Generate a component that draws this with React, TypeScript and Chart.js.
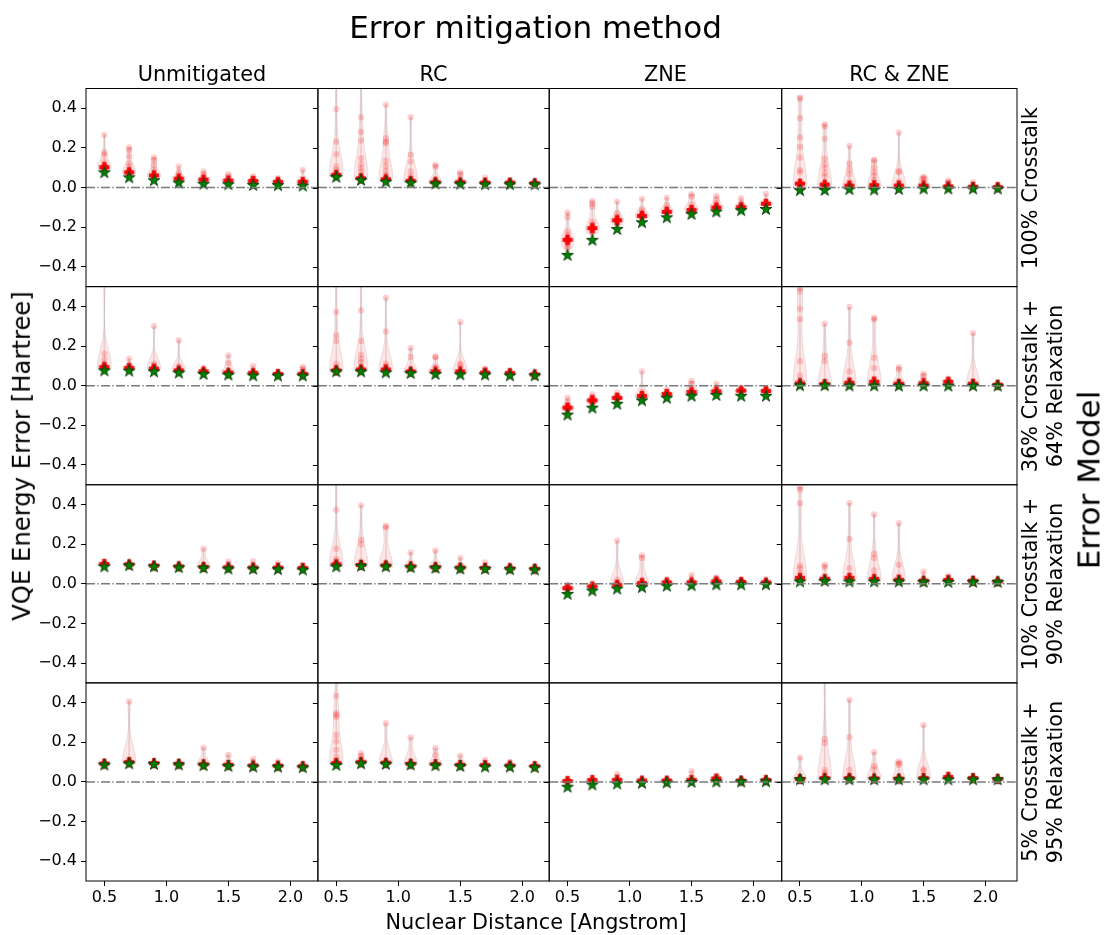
import React, { useEffect, useRef } from "react";
import { Chart, registerables } from "chart.js";

Chart.register(...registerables);

// ---------------- data ----------------
const distances = [0.5, 0.7, 0.9, 1.1, 1.3, 1.5, 1.7, 1.9, 2.1];
const methods = ["Unmitigated", "RC", "ZNE", "RC & ZNE"];
const errorModels = [
  "100% Crosstalk",
  "36% Crosstalk +\n64% Relaxation",
  "10% Crosstalk +\n90% Relaxation",
  "5% Crosstalk +\n95% Relaxation",
];
const yTicks = [-0.4, -0.2, 0, 0.2, 0.4];
const xTicks = [0.5, 1.0, 1.5, 2.0];

// Row 1: 100% crosstalk
const ref_xt100_unmit = [0.077, 0.052, 0.037, 0.025, 0.019, 0.017, 0.013, 0.012, 0.010];
const mean_xt100_unmit = [0.103, 0.077, 0.061, 0.045, 0.040, 0.035, 0.033, 0.029, 0.029];
const runs_xt100_unmit = [
  [0.266, 0.177, 0.165, 0.131, 0.114, 0.108, 0.104, 0.101, 0.099, 0.097, 0.095, 0.093, 0.090],
  [0.202, 0.190, 0.157, 0.123, 0.106, 0.089, 0.082, 0.078, 0.075, 0.073, 0.071, 0.069, 0.066],
  [0.152, 0.140, 0.114, 0.089, 0.072, 0.064, 0.061, 0.059, 0.057, 0.055, 0.053],
  [0.106, 0.077, 0.064, 0.050, 0.047, 0.045, 0.043, 0.041, 0.039],
  [0.081, 0.067, 0.050, 0.043, 0.041, 0.039, 0.037, 0.035],
  [0.067, 0.056, 0.040, 0.037, 0.035, 0.033, 0.031],
  [0.056, 0.047, 0.036, 0.034, 0.032, 0.030, 0.028],
  [0.047, 0.033, 0.031, 0.029, 0.027, 0.025],
  [0.089, 0.036, 0.032, 0.030, 0.028, 0.026],
];
const ref_xt100_rc = [0.054, 0.039, 0.030, 0.025, 0.020, 0.019, 0.017, 0.017, 0.017];
const mean_xt100_rc = [0.064, 0.047, 0.042, 0.034, 0.027, 0.027, 0.025, 0.025, 0.022];
const runs_xt100_rc = [
  [0.56, 0.396, 0.232, 0.168, 0.106, 0.089, 0.075, 0.070, 0.067, 0.064, 0.062, 0.060, 0.058, 0.056, 0.054],
  [0.54, 0.355, 0.281, 0.237, 0.148, 0.118, 0.098, 0.081, 0.060, 0.055, 0.051, 0.048, 0.046, 0.044, 0.042, 0.040],
  [0.418, 0.249, 0.232, 0.224, 0.135, 0.109, 0.084, 0.064, 0.050, 0.046, 0.043, 0.041, 0.039, 0.037, 0.035],
  [0.355, 0.165, 0.131, 0.081, 0.056, 0.040, 0.037, 0.035, 0.033, 0.031, 0.029, 0.028],
  [0.114, 0.106, 0.044, 0.032, 0.029, 0.027, 0.025, 0.023, 0.022],
  [0.076, 0.067, 0.032, 0.029, 0.027, 0.025, 0.023, 0.022],
  [0.050, 0.030, 0.027, 0.025, 0.023, 0.021],
  [0.037, 0.028, 0.026, 0.024, 0.022, 0.021],
  [0.027, 0.024, 0.022, 0.021, 0.020, 0.019],
];
const ref_xt100_zne = [-0.340, -0.264, -0.209, -0.175, -0.150, -0.133, -0.121, -0.114, -0.108];
const mean_xt100_zne = [-0.264, -0.205, -0.165, -0.143, -0.123, -0.113, -0.101, -0.099, -0.082];
const runs_xt100_zne = [
  [-0.126, -0.150, -0.222, -0.239, -0.250, -0.258, -0.262, -0.266, -0.270, -0.276, -0.285, -0.295, -0.310],
  [-0.067, -0.081, -0.096, -0.172, -0.185, -0.195, -0.200, -0.205, -0.210, -0.215, -0.222, -0.231],
  [-0.071, -0.130, -0.146, -0.155, -0.160, -0.164, -0.168, -0.172, -0.178, -0.189],
  [-0.057, -0.109, -0.121, -0.132, -0.138, -0.142, -0.146, -0.150, -0.155],
  [-0.051, -0.088, -0.104, -0.113, -0.118, -0.122, -0.126, -0.130],
  [-0.034, -0.045, -0.084, -0.100, -0.106, -0.110, -0.114, -0.118],
  [-0.042, -0.062, -0.079, -0.090, -0.096, -0.100, -0.104, -0.108],
  [-0.054, -0.079, -0.090, -0.095, -0.099, -0.102, -0.106],
  [-0.032, -0.071, -0.076, -0.080, -0.083, -0.086, -0.090],
];
const ref_xt100_rczne = [-0.013, -0.012, -0.008, -0.010, -0.007, -0.005, -0.005, -0.005, -0.005];
const mean_xt100_rczne = [0.020, 0.015, 0.010, 0.012, 0.010, 0.010, 0.006, 0.004, 0.002];
const runs_xt100_rczne = [
  [0.455, 0.448, 0.350, 0.253, 0.205, 0.152, 0.089, 0.077, 0.030, 0.018, 0.012, 0.008, 0.005, 0.003, 0.001, 0.000, -0.002, -0.004],
  [0.320, 0.308, 0.246, 0.145, 0.118, 0.098, 0.072, 0.056, 0.020, 0.012, 0.008, 0.005, 0.003, 0.001, -0.001, -0.003],
  [0.210, 0.121, 0.093, 0.067, 0.030, 0.012, 0.008, 0.005, 0.003, 0.001, -0.001, -0.003],
  [0.140, 0.135, 0.101, 0.077, 0.061, 0.039, 0.015, 0.010, 0.006, 0.003, 0.001, -0.001, -0.003],
  [0.278, 0.084, 0.077, 0.030, 0.012, 0.008, 0.005, 0.003, 0.001, -0.001, -0.003],
  [0.054, 0.050, 0.044, 0.030, 0.008, 0.005, 0.003, 0.001, -0.001],
  [0.035, 0.027, 0.006, 0.004, 0.002, 0.000, -0.002],
  [0.027, 0.005, 0.003, 0.001, 0.000, -0.002],
  [0.013, 0.004, 0.002, 0.001, 0.000, -0.002],
];

// Row 2: 36% crosstalk + 64% relaxation
const ref_xt36_unmit = [0.077, 0.076, 0.072, 0.066, 0.059, 0.056, 0.052, 0.051, 0.051];
const mean_xt36_unmit = [0.094, 0.089, 0.086, 0.077, 0.072, 0.066, 0.064, 0.059, 0.059];
const runs_xt36_unmit = [
  [0.53, 0.162, 0.133, 0.111, 0.102, 0.099, 0.096, 0.094, 0.092, 0.090, 0.088, 0.086],
  [0.136, 0.106, 0.095, 0.092, 0.090, 0.088, 0.086, 0.084],
  [0.301, 0.111, 0.103, 0.092, 0.089, 0.087, 0.085, 0.083, 0.081],
  [0.229, 0.098, 0.082, 0.079, 0.077, 0.075, 0.073, 0.071],
  [0.086, 0.076, 0.074, 0.072, 0.070, 0.068],
  [0.153, 0.114, 0.070, 0.067, 0.065, 0.063, 0.061],
  [0.099, 0.068, 0.065, 0.063, 0.061, 0.059],
  [0.069, 0.062, 0.060, 0.058, 0.056],
  [0.094, 0.086, 0.062, 0.060, 0.058, 0.056, 0.054],
];
const ref_xt36_rc = [0.072, 0.072, 0.067, 0.064, 0.059, 0.057, 0.056, 0.052, 0.052];
const mean_xt36_rc = [0.077, 0.082, 0.082, 0.072, 0.072, 0.072, 0.066, 0.064, 0.057];
const runs_xt36_rc = [
  [0.55, 0.372, 0.254, 0.226, 0.111, 0.094, 0.085, 0.082, 0.080, 0.078, 0.076, 0.075, 0.074, 0.073, 0.072],
  [0.54, 0.380, 0.226, 0.157, 0.136, 0.120, 0.095, 0.088, 0.085, 0.082, 0.080, 0.078, 0.076, 0.074, 0.073],
  [0.444, 0.274, 0.111, 0.094, 0.088, 0.085, 0.082, 0.080, 0.078, 0.076, 0.074, 0.072],
  [0.190, 0.145, 0.076, 0.074, 0.072, 0.070, 0.068, 0.066],
  [0.146, 0.145, 0.094, 0.074, 0.072, 0.070, 0.068, 0.066, 0.064],
  [0.322, 0.111, 0.103, 0.074, 0.072, 0.070, 0.068, 0.066, 0.064, 0.062],
  [0.086, 0.082, 0.068, 0.066, 0.064, 0.062, 0.060],
  [0.072, 0.066, 0.064, 0.062, 0.060, 0.058],
  [0.061, 0.059, 0.057, 0.055, 0.054],
];
const ref_xt36_zne = [-0.146, -0.111, -0.091, -0.074, -0.061, -0.051, -0.047, -0.051, -0.051];
const mean_xt36_zne = [-0.111, -0.074, -0.062, -0.052, -0.042, -0.032, -0.029, -0.025, -0.027];
const runs_xt36_zne = [
  [-0.061, -0.082, -0.100, -0.106, -0.110, -0.113, -0.116, -0.120, -0.125],
  [-0.044, -0.057, -0.066, -0.070, -0.074, -0.077, -0.080, -0.085, -0.091],
  [-0.035, -0.049, -0.056, -0.060, -0.063, -0.066, -0.070],
  [0.072, -0.032, -0.045, -0.049, -0.052, -0.055, -0.058, -0.061],
  [-0.019, -0.032, -0.038, -0.041, -0.044, -0.047, -0.050],
  [0.024, 0.010, -0.015, -0.026, -0.030, -0.033, -0.036, -0.040],
  [0.010, -0.015, -0.024, -0.028, -0.031, -0.034, -0.037],
  [-0.010, -0.018, -0.022, -0.025, -0.028, -0.031],
  [-0.012, -0.020, -0.024, -0.027, -0.030, -0.033],
];
const ref_xt36_rczne = [0.002, 0.002, 0.001, 0.001, 0.000, 0.000, 0.000, 0.000, 0.000];
const mean_xt36_rczne = [0.012, 0.008, 0.015, 0.020, 0.010, 0.012, 0.020, 0.010, 0.005];
const runs_xt36_rczne = [
  [0.493, 0.476, 0.389, 0.335, 0.123, 0.052, 0.027, 0.015, 0.010, 0.006, 0.004, 0.002, 0.000, -0.002],
  [0.313, 0.150, 0.123, 0.019, 0.010, 0.006, 0.004, 0.002, 0.000, -0.002],
  [0.397, 0.217, 0.072, 0.032, 0.012, 0.008, 0.005, 0.002, 0.000, -0.002],
  [0.342, 0.335, 0.141, 0.089, 0.035, 0.015, 0.010, 0.006, 0.003, 0.001, -0.001],
  [0.093, 0.082, 0.019, 0.008, 0.005, 0.003, 0.001, -0.001],
  [0.061, 0.049, 0.027, 0.008, 0.005, 0.003, 0.001, -0.001],
  [0.035, 0.027, 0.008, 0.005, 0.003, 0.001, -0.001],
  [0.266, 0.022, 0.006, 0.004, 0.002, 0.001, -0.001],
  [0.013, 0.004, 0.002, 0.001, 0.000, -0.001],
];

// Row 3: 10% crosstalk + 90% relaxation
const ref_xt10_unmit = [0.088, 0.094, 0.088, 0.084, 0.081, 0.077, 0.076, 0.074, 0.072];
const mean_xt10_unmit = [0.100, 0.098, 0.092, 0.088, 0.085, 0.083, 0.082, 0.082, 0.080];
const runs_xt10_unmit = [
  [0.113, 0.104, 0.100, 0.098, 0.096, 0.094],
  [0.104, 0.100, 0.099, 0.097, 0.096],
  [0.098, 0.094, 0.093, 0.091, 0.090],
  [0.092, 0.090, 0.088, 0.087, 0.086],
  [0.177, 0.088, 0.086, 0.084, 0.082],
  [0.113, 0.085, 0.083, 0.080, 0.078],
  [0.114, 0.083, 0.081, 0.079, 0.077],
  [0.104, 0.081, 0.079, 0.077, 0.075],
  [0.096, 0.079, 0.077, 0.075, 0.073],
];
const ref_xt10_rc = [0.088, 0.091, 0.088, 0.084, 0.081, 0.077, 0.076, 0.074, 0.072];
const mean_xt10_rc = [0.098, 0.095, 0.093, 0.088, 0.084, 0.082, 0.080, 0.078, 0.076];
const runs_xt10_rc = [
  [0.54, 0.374, 0.177, 0.126, 0.113, 0.104, 0.101, 0.099, 0.097, 0.095, 0.093, 0.091, 0.089],
  [0.396, 0.222, 0.200, 0.113, 0.100, 0.097, 0.095, 0.093, 0.091, 0.089],
  [0.293, 0.285, 0.104, 0.097, 0.094, 0.092, 0.090, 0.088],
  [0.158, 0.092, 0.090, 0.088, 0.086, 0.084],
  [0.168, 0.088, 0.086, 0.084, 0.082, 0.080],
  [0.131, 0.086, 0.083, 0.081, 0.079, 0.077],
  [0.108, 0.083, 0.081, 0.079, 0.077, 0.075],
  [0.093, 0.080, 0.078, 0.076, 0.074],
  [0.084, 0.078, 0.076, 0.074, 0.072],
];
const ref_xt10_zne = [-0.051, -0.034, -0.024, -0.017, -0.010, -0.007, -0.003, -0.003, -0.003];
const mean_xt10_zne = [-0.022, -0.013, -0.005, 0.003, 0.007, 0.007, 0.012, 0.010, 0.007];
const runs_xt10_zne = [
  [-0.005, -0.015, -0.019, -0.022, -0.025, -0.030],
  [-0.005, -0.010, -0.013, -0.015, -0.020],
  [0.217, 0.020, 0.002, -0.002, -0.005, -0.008, -0.011],
  [0.143, 0.130, 0.020, 0.006, 0.003, 0.000, -0.003, -0.006],
  [0.020, 0.010, 0.008, 0.006, 0.003, 0.000],
  [0.045, 0.012, 0.009, 0.006, 0.003, 0.000],
  [0.032, 0.024, 0.014, 0.012, 0.010, 0.005, 0.002],
  [0.020, 0.012, 0.010, 0.008, 0.005, 0.002],
  [0.015, 0.010, 0.008, 0.006, 0.004, 0.002],
];
const ref_xt10_rczne = [0.012, 0.015, 0.012, 0.012, 0.012, 0.010, 0.010, 0.010, 0.010];
const mean_xt10_rczne = [0.030, 0.025, 0.030, 0.025, 0.020, 0.016, 0.020, 0.016, 0.012];
const runs_xt10_rczne = [
  [0.488, 0.475, 0.407, 0.091, 0.079, 0.054, 0.030, 0.022, 0.018, 0.015, 0.013, 0.011, 0.010, 0.009],
  [0.096, 0.084, 0.024, 0.016, 0.014, 0.012, 0.011, 0.010],
  [0.407, 0.226, 0.079, 0.045, 0.022, 0.017, 0.014, 0.012, 0.011, 0.010],
  [0.350, 0.152, 0.130, 0.067, 0.037, 0.018, 0.015, 0.013, 0.012, 0.011, 0.010],
  [0.306, 0.096, 0.037, 0.016, 0.014, 0.012, 0.011, 0.010],
  [0.061, 0.015, 0.013, 0.012, 0.011, 0.010],
  [0.040, 0.014, 0.012, 0.011, 0.010],
  [0.025, 0.013, 0.012, 0.011, 0.010],
  [0.015, 0.013, 0.012, 0.011, 0.010],
];

// Row 4: 5% crosstalk + 95% relaxation
const ref_xt5_unmit = [0.088, 0.094, 0.091, 0.088, 0.084, 0.081, 0.077, 0.077, 0.074];
const mean_xt5_unmit = [0.093, 0.100, 0.095, 0.092, 0.089, 0.086, 0.083, 0.082, 0.079];
const runs_xt5_unmit = [
  [0.095, 0.093, 0.092, 0.091, 0.090],
  [0.406, 0.111, 0.102, 0.100, 0.098, 0.096, 0.094],
  [0.096, 0.094, 0.093, 0.092, 0.091],
  [0.092, 0.091, 0.090, 0.089, 0.088],
  [0.173, 0.090, 0.088, 0.086, 0.084],
  [0.136, 0.087, 0.085, 0.083, 0.081],
  [0.116, 0.084, 0.082, 0.080, 0.078],
  [0.103, 0.083, 0.081, 0.079, 0.077],
  [0.091, 0.080, 0.078, 0.076, 0.074],
];
const ref_xt5_rc = [0.086, 0.094, 0.091, 0.088, 0.084, 0.081, 0.077, 0.077, 0.074];
const mean_xt5_rc = [0.095, 0.100, 0.097, 0.092, 0.090, 0.086, 0.085, 0.083, 0.080];
const runs_xt5_rc = [
  [0.53, 0.434, 0.347, 0.338, 0.327, 0.237, 0.204, 0.162, 0.128, 0.110, 0.104, 0.100, 0.097, 0.095, 0.093, 0.091, 0.090, 0.088],
  [0.145, 0.131, 0.114, 0.102, 0.100, 0.098, 0.096, 0.094],
  [0.296, 0.100, 0.098, 0.096, 0.094, 0.092],
  [0.224, 0.094, 0.092, 0.090, 0.088],
  [0.170, 0.136, 0.092, 0.090, 0.088, 0.086, 0.084],
  [0.133, 0.088, 0.086, 0.084, 0.082],
  [0.111, 0.086, 0.084, 0.082, 0.080],
  [0.098, 0.084, 0.082, 0.080, 0.078],
  [0.086, 0.081, 0.079, 0.077, 0.075],
];
const ref_xt5_zne = [-0.024, -0.013, -0.008, -0.005, -0.003, 0.000, 0.002, 0.002, 0.003];
const mean_xt5_zne = [0.005, 0.010, 0.010, 0.007, 0.007, 0.010, 0.017, 0.007, 0.010];
const runs_xt5_zne = [
  [0.010, 0.006, 0.004, 0.000, -0.005],
  [0.012, 0.009, 0.008, 0.004, 0.000],
  [0.040, 0.012, 0.010, 0.006, 0.002],
  [0.012, 0.009, 0.007, 0.004],
  [0.012, 0.009, 0.007, 0.004],
  [0.054, 0.012, 0.010, 0.006, 0.003],
  [0.030, 0.022, 0.014, 0.012, 0.006],
  [0.012, 0.009, 0.007, 0.004],
  [0.014, 0.012, 0.010, 0.006],
];
const ref_xt5_rczne = [0.013, 0.013, 0.013, 0.013, 0.013, 0.013, 0.013, 0.013, 0.013];
const mean_xt5_rczne = [0.015, 0.020, 0.020, 0.018, 0.017, 0.020, 0.025, 0.020, 0.015];
const runs_xt5_rczne = [
  [0.123, 0.020, 0.017, 0.015, 0.013, 0.012],
  [0.54, 0.217, 0.195, 0.061, 0.044, 0.028, 0.022, 0.018, 0.015, 0.013, 0.012, 0.011],
  [0.414, 0.226, 0.061, 0.030, 0.020, 0.017, 0.015, 0.013, 0.012, 0.011],
  [0.150, 0.081, 0.064, 0.020, 0.017, 0.015, 0.013, 0.012],
  [0.103, 0.094, 0.086, 0.020, 0.017, 0.015, 0.013, 0.012],
  [0.288, 0.064, 0.057, 0.025, 0.018, 0.015, 0.013, 0.012],
  [0.040, 0.020, 0.017, 0.015, 0.013],
  [0.027, 0.017, 0.015, 0.013, 0.012],
  [0.014, 0.013, 0.012, 0.011],
];

const panels = [
  [
    { ref: ref_xt100_unmit, mean: mean_xt100_unmit, runs: runs_xt100_unmit },
    { ref: ref_xt100_rc, mean: mean_xt100_rc, runs: runs_xt100_rc },
    { ref: ref_xt100_zne, mean: mean_xt100_zne, runs: runs_xt100_zne },
    { ref: ref_xt100_rczne, mean: mean_xt100_rczne, runs: runs_xt100_rczne },
  ],
  [
    { ref: ref_xt36_unmit, mean: mean_xt36_unmit, runs: runs_xt36_unmit },
    { ref: ref_xt36_rc, mean: mean_xt36_rc, runs: runs_xt36_rc },
    { ref: ref_xt36_zne, mean: mean_xt36_zne, runs: runs_xt36_zne },
    { ref: ref_xt36_rczne, mean: mean_xt36_rczne, runs: runs_xt36_rczne },
  ],
  [
    { ref: ref_xt10_unmit, mean: mean_xt10_unmit, runs: runs_xt10_unmit },
    { ref: ref_xt10_rc, mean: mean_xt10_rc, runs: runs_xt10_rc },
    { ref: ref_xt10_zne, mean: mean_xt10_zne, runs: runs_xt10_zne },
    { ref: ref_xt10_rczne, mean: mean_xt10_rczne, runs: runs_xt10_rczne },
  ],
  [
    { ref: ref_xt5_unmit, mean: mean_xt5_unmit, runs: runs_xt5_unmit },
    { ref: ref_xt5_rc, mean: mean_xt5_rc, runs: runs_xt5_rc },
    { ref: ref_xt5_zne, mean: mean_xt5_zne, runs: runs_xt5_zne },
    { ref: ref_xt5_rczne, mean: mean_xt5_rczne, runs: runs_xt5_rczne },
  ],
];

// ---------------- layout / style ----------------
const W = 1105;
const H = 935;
const AREA = { left: 86, top: 88.5, right: 1017, bottom: 881 };
const COL_WEIGHTS = [231.9, 231.3, 232.5, 235.3];
const X_MIN = 0.352;
const X_MAX = [2.222, 2.217, 2.227, 2.256];
const Y_MIN = -0.5;
const Y_MAX = 0.5;
const VIOLIN_WIDTH = 0.11;
const FONT = "'DejaVu Sans', sans-serif";
const LABEL_FS = 20.8;
const YLABEL_FS = 24.3;
const TITLE_FS = 31;
const TICK_FS = 16;

function colBounds() {
  const tot = COL_WEIGHTS.reduce((a, b) => a + b, 0);
  const w = AREA.right - AREA.left;
  const out: number[] = [AREA.left];
  let acc = AREA.left;
  for (const cw of COL_WEIGHTS) {
    acc += (w * cw) / tot;
    out.push(acc);
  }
  return out;
}
const COLS = colBounds();
const ROW_H = (AREA.bottom - AREA.top) / 4;

function fmtTick(v: number) {
  const s = Math.abs(v).toFixed(1);
  return v < -1e-9 ? "\u2212" + s : s;
}

function kde(samples: number[], n = 100) {
  const N = samples.length;
  if (N < 2) return null;
  const m = samples.reduce((a, b) => a + b, 0) / N;
  const v = samples.reduce((a, b) => a + (b - m) * (b - m), 0) / (N - 1);
  if (v <= 0) return null;
  const bw = Math.pow(N, -1 / 5) * Math.sqrt(v);
  const lo = Math.min(...samples);
  const hi = Math.max(...samples);
  const ys: number[] = [];
  const ds: number[] = [];
  let mx = 0;
  for (let i = 0; i < n; i++) {
    const y = lo + ((hi - lo) * i) / (n - 1);
    let d = 0;
    for (const s of samples) {
      const z = (y - s) / bw;
      d += Math.exp(-0.5 * z * z);
    }
    ys.push(y);
    ds.push(d);
    if (d > mx) mx = d;
  }
  return { ys, ds: ds.map((d) => d / mx) };
}

function makeStar(): HTMLCanvasElement {
  const s = 16;
  const c = document.createElement("canvas");
  c.width = s;
  c.height = s;
  const g = c.getContext("2d")!;
  const R = 6.2;
  const r = R * 0.382;
  const cx = s / 2;
  const cy = s / 2 + 0.4;
  g.beginPath();
  for (let i = 0; i < 10; i++) {
    const a = -Math.PI / 2 + (i * Math.PI) / 5;
    const rad = i % 2 === 0 ? R : r;
    const px = cx + rad * Math.cos(a);
    const py = cy + rad * Math.sin(a);
    if (i === 0) g.moveTo(px, py);
    else g.lineTo(px, py);
  }
  g.closePath();
  g.fillStyle = "#008000";
  g.fill();
  g.strokeStyle = "#0b3d0b";
  g.lineWidth = 0.9;
  g.stroke();
  return c;
}

function makePlus(): HTMLCanvasElement {
  const s = 12;
  const c = document.createElement("canvas");
  c.width = s;
  c.height = s;
  const g = c.getContext("2d")!;
  const L = 4.8;
  const t = 1.7;
  const cx = s / 2;
  const cy = s / 2;
  g.beginPath();
  g.moveTo(cx - t, cy - L);
  g.lineTo(cx + t, cy - L);
  g.lineTo(cx + t, cy - t);
  g.lineTo(cx + L, cy - t);
  g.lineTo(cx + L, cy + t);
  g.lineTo(cx + t, cy + t);
  g.lineTo(cx + t, cy + L);
  g.lineTo(cx - t, cy + L);
  g.lineTo(cx - t, cy + t);
  g.lineTo(cx - L, cy + t);
  g.lineTo(cx - L, cy - t);
  g.lineTo(cx - t, cy - t);
  g.closePath();
  g.fillStyle = "#ff0000";
  g.fill();
  g.strokeStyle = "#d00000";
  g.lineWidth = 0.6;
  g.stroke();
  return c;
}

const clipPlugin = {
  id: "panelClip",
  beforeDatasetDraw(chart: any, args: any) {
    const meta = args.meta;
    const xs = meta.xScale;
    const ys = meta.yScale;
    const ctx = chart.ctx;
    ctx.save();
    ctx.beginPath();
    ctx.rect(xs.left, ys.top, xs.right - xs.left, ys.bottom - ys.top);
    ctx.clip();
  },
  afterDatasetDraw(chart: any) {
    chart.ctx.restore();
  },
};

const violinPlugin = {
  id: "violins",
  beforeDatasetsDraw(chart: any) {
    const ctx = chart.ctx;
    for (let r = 0; r < 4; r++) {
      for (let c = 0; c < 4; c++) {
        const xs = chart.scales["x" + c];
        const ys = chart.scales["y" + r];
        ctx.save();
        ctx.beginPath();
        ctx.rect(xs.left, ys.top, xs.right - xs.left, ys.bottom - ys.top);
        ctx.clip();
        panels[r][c].runs.forEach((runs, i) => {
          const k = kde(runs);
          if (!k) return;
          const pos = distances[i];
          const half = VIOLIN_WIDTH / 2;
          ctx.beginPath();
          for (let j = 0; j < k.ys.length; j++) {
            const px = xs.getPixelForValue(pos + half * k.ds[j]);
            const py = ys.getPixelForValue(k.ys[j]);
            if (j === 0) ctx.moveTo(px, py);
            else ctx.lineTo(px, py);
          }
          for (let j = k.ys.length - 1; j >= 0; j--) {
            ctx.lineTo(xs.getPixelForValue(pos - half * k.ds[j]), ys.getPixelForValue(k.ys[j]));
          }
          ctx.closePath();
          ctx.fillStyle = "rgba(255,0,0,0.1)";
          ctx.fill();
          ctx.strokeStyle = "rgba(120,110,110,0.16)";
          ctx.lineWidth = 1;
          ctx.stroke();
        });
        ctx.restore();
      }
    }
  },
};

const framePlugin = {
  id: "frames",
  afterDraw(chart: any) {
    const ctx = chart.ctx;
    ctx.save();
    ctx.strokeStyle = "#000";
    ctx.lineWidth = 1;
    for (let r = 0; r < 4; r++) {
      for (let c = 0; c < 4; c++) {
        const xs = chart.scales["x" + c];
        const ys = chart.scales["y" + r];
        ctx.strokeRect(xs.left, ys.top, xs.right - xs.left, ys.bottom - ys.top);
        if (c > 0) {
          ctx.beginPath();
          for (const t of yTicks) {
            const py = Math.round(ys.getPixelForValue(t)) + 0.5;
            ctx.moveTo(xs.left - 5, py);
            ctx.lineTo(xs.left, py);
          }
          ctx.stroke();
        }
      }
    }
    ctx.restore();
  },
};

function buildConfig() {
  const star = makeStar();
  const plus = makePlus();
  const scales: any = {};
  for (let r = 0; r < 4; r++) {
    scales["y" + r] = {
      type: "linear",
      position: "left",
      stack: "rows",
      stackWeight: 1,
      weight: 4 - r,
      min: Y_MIN,
      max: Y_MAX,
      afterBuildTicks: (s: any) => {
        s.ticks = yTicks.map((v) => ({ value: v }));
      },
      afterFit: (s: any) => {
        s.width = AREA.left;
      },
      grid: { display: true, drawOnChartArea: false, drawTicks: true, tickLength: 5, tickColor: "#000", tickWidth: 1, color: "#000" },
      border: { display: false },
      ticks: {
        autoSkip: false,
        padding: 4,
        color: "#000",
        font: { family: FONT, size: TICK_FS },
        callback: (v: any) => fmtTick(Number(v)),
      },
    };
  }
  for (let c = 0; c < 4; c++) {
    scales["x" + c] = {
      type: "linear",
      position: "bottom",
      stack: "cols",
      stackWeight: COL_WEIGHTS[c],
      weight: c + 1,
      min: X_MIN,
      max: X_MAX[c],
      afterBuildTicks: (s: any) => {
        s.ticks = xTicks.map((v) => ({ value: v }));
      },
      afterFit: (s: any) => {
        s.height = H - AREA.bottom;
      },
      grid: { display: true, drawOnChartArea: false, drawTicks: true, tickLength: 5, tickColor: "#000", tickWidth: 1, color: "#000" },
      border: { display: false },
      ticks: {
        autoSkip: false,
        maxRotation: 0,
        minRotation: 0,
        padding: 2,
        color: "#000",
        font: { family: FONT, size: TICK_FS },
        callback: (v: any) => fmtTick(Number(v)),
      },
    };
  }

  const datasets: any[] = [];
  for (let r = 0; r < 4; r++) {
    for (let c = 0; c < 4; c++) {
      const p = panels[r][c];
      const xAxisID = "x" + c;
      const yAxisID = "y" + r;
      const rangeData: any[] = [];
      p.runs.forEach((runs, i) => {
        rangeData.push({ x: distances[i], y: Math.min(...runs) });
        rangeData.push({ x: distances[i], y: Math.max(...runs) });
        rangeData.push({ x: distances[i], y: null });
      });
      datasets.push({
        type: "line",
        order: 5,
        xAxisID,
        yAxisID,
        data: rangeData,
        borderColor: "rgba(150,130,130,0.25)",
        borderWidth: 1.5,
        pointRadius: 0,
        spanGaps: false,
        tension: 0,
        fill: false,
      });
      const sampleData: any[] = [];
      p.runs.forEach((runs, i) => runs.forEach((v) => sampleData.push({ x: distances[i], y: v })));
      datasets.push({
        type: "scatter",
        order: 4,
        xAxisID,
        yAxisID,
        data: sampleData,
        pointRadius: 3.2,
        pointBackgroundColor: "rgba(255,0,0,0.18)",
        pointBorderWidth: 0,
        borderWidth: 0,
      });
      datasets.push({
        type: "scatter",
        order: 3,
        xAxisID,
        yAxisID,
        data: p.mean.map((v, i) => ({ x: distances[i], y: v })),
        pointStyle: plus,
      });
      datasets.push({
        type: "scatter",
        order: 2,
        xAxisID,
        yAxisID,
        data: p.ref.map((v, i) => ({ x: distances[i], y: v })),
        pointStyle: star,
      });
      datasets.push({
        type: "line",
        order: 1,
        xAxisID,
        yAxisID,
        data: [
          { x: X_MIN, y: 0 },
          { x: X_MAX[c], y: 0 },
        ],
        borderColor: "#7a7a7a",
        borderWidth: 1.4,
        borderDash: [9, 2.3, 1.4, 2.3],
        pointRadius: 0,
        fill: false,
      });
    }
  }

  return {
    type: "scatter",
    data: { datasets },
    options: {
      responsive: false,
      maintainAspectRatio: false,
      animation: false,
      devicePixelRatio: 1,
      events: [],
      layout: {
        padding: { left: 0, top: AREA.top, right: W - AREA.right, bottom: 0 },
      },
      plugins: {
        legend: { display: false },
        tooltip: { enabled: false },
        title: { display: false },
      },
      scales,
    },
    plugins: [violinPlugin, clipPlugin, framePlugin],
  };
}

// ---------------- text helpers ----------------
function HText(props: { text: string; cx: number; baseline: number; fs: number }) {
  const { text, cx, baseline, fs } = props;
  return (
    <div
      style={{
        position: "absolute",
        left: cx,
        top: baseline - 0.846 * fs,
        transform: "translateX(-50%)",
        fontFamily: FONT,
        fontSize: fs,
        lineHeight: fs + "px",
        whiteSpace: "nowrap",
        color: "#000",
      }}
    >
      {text}
    </div>
  );
}

function VText(props: { text: string; cx: number; cy: number; fs: number; lh: number }) {
  const { text, cx, cy, fs, lh } = props;
  return (
    <div
      style={{
        position: "absolute",
        left: cx,
        top: cy,
        transform: "translate(-50%,-50%) rotate(-90deg)",
        fontFamily: FONT,
        fontSize: fs,
        lineHeight: lh + "px",
        whiteSpace: "pre",
        textAlign: "center",
        color: "#000",
      }}
    >
      {text}
    </div>
  );
}

export default function App() {
  const canvasRef = useRef<HTMLCanvasElement>(null);
  useEffect(() => {
    Chart.defaults.font.family = FONT;
    const chart = new Chart(canvasRef.current as HTMLCanvasElement, buildConfig() as any);
    return () => chart.destroy();
  }, []);

  const rowLabelCapTop = 1022;
  const lh = 24.5;

  return (
    <div
      style={{
        position: "absolute",
        left: 0,
        top: 0,
        width: W,
        height: H,
        overflow: "hidden",
        background: "#fff",
      }}
    >
      <canvas ref={canvasRef} width={W} height={H} style={{ position: "absolute", left: 0, top: 0, width: W, height: H }} />
      <HText text="Error mitigation method" cx={535.5} baseline={38} fs={TITLE_FS} />
      {methods.map((m, c) => (
        <HText key={m} text={m} cx={(COLS[c] + COLS[c + 1]) / 2} baseline={82} fs={LABEL_FS} />
      ))}
      {errorModels.map((m, r) => {
        const lines = m.split("\n").length;
        const cx = rowLabelCapTop + 0.383 * LABEL_FS + ((lines - 1) * lh) / 2;
        return <VText key={m} text={m} cx={cx} cy={AREA.top + ROW_H * (r + 0.5)} fs={LABEL_FS} lh={lh} />;
      })}
      <VText text="Error Model" cx={1077 + 0.383 * TITLE_FS} cy={480} fs={TITLE_FS} lh={TITLE_FS} />
      <VText text="VQE Energy Error [Hartree]" cx={13 + 0.383 * YLABEL_FS} cy={456} fs={YLABEL_FS} lh={YLABEL_FS} />
      <HText text="Nuclear Distance [Angstrom]" cx={536} baseline={929.5} fs={LABEL_FS} />
    </div>
  );
}
